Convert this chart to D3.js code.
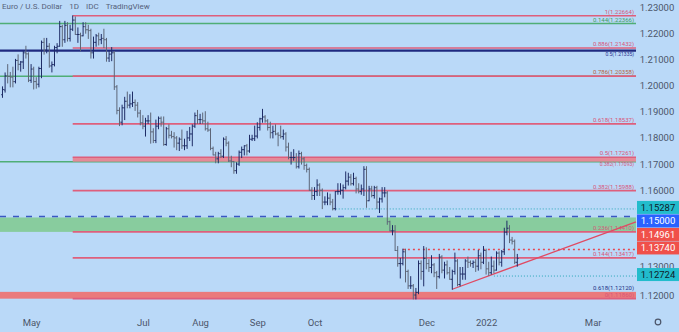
<!DOCTYPE html>
<html>
<head>
<meta charset="utf-8">
<script src="https://cdn.jsdelivr.net/npm/d3@7"></script>
<style>
  body { margin: 0; background: #bad9f8; }
  svg { display: block; font-family: Roboto, "Open Sans", sans-serif; }
</style>
</head>
<body>
<div id="chart"></div>
<script>
const width = 679, height = 332;
const plotRight = 636;

// one bar per weekday, starting 16 Apr 2021 (EUR/USD daily)
const firstDay = "2021-04-16";
const opens = [
  1.1965, 1.1983, 1.2037, 1.2035, 1.2032, 1.2015, 1.2096, 1.2081, 1.2090, 1.2125, 1.2121,
  1.2020, 1.2063, 1.2015, 1.2005, 1.2065, 1.2165, 1.2135, 1.2150, 1.2075, 1.2080, 1.2145, 1.2150, 1.2225, 1.2175, 1.2230, 1.2180, 1.2215, 1.2250, 1.2195, 1.2195, 1.2190,
  1.2225, 1.2213, 1.2210, 1.2125, 1.2165, 1.2190, 1.2175, 1.2180, 1.2175, 1.2105, 1.2120, 1.2125, 1.1995, 1.1905, 1.1860, 1.1915, 1.1940, 1.1925, 1.1930, 1.1935, 1.1925, 1.1895,
  1.1858, 1.1845, 1.1865, 1.1865, 1.1823, 1.1790, 1.1845, 1.1875, 1.1860, 1.1775, 1.1835, 1.1810, 1.1805, 1.1800, 1.1780, 1.1795, 1.1770, 1.1770, 1.1800, 1.1815, 1.1845, 1.1885,
  1.1870, 1.1870, 1.1865, 1.1835, 1.1830, 1.1760, 1.1735, 1.1720, 1.1740, 1.1730, 1.1795, 1.1780, 1.1712, 1.1710, 1.1675, 1.1700, 1.1745, 1.1755, 1.1770, 1.1750, 1.1795, 1.1797,
  1.1807, 1.1840, 1.1873, 1.1880, 1.1865, 1.1840, 1.1820, 1.1825, 1.1815, 1.1810, 1.1805, 1.1815, 1.1765, 1.1725, 1.1725, 1.1725, 1.1690, 1.1740, 1.1720, 1.1695, 1.1680, 1.1600,
  1.1580, 1.1595, 1.1620, 1.1600, 1.1555, 1.1555, 1.1570, 1.1555, 1.1530, 1.1595, 1.1595, 1.1600, 1.1610, 1.1635, 1.1650, 1.1625, 1.1645, 1.1605, 1.1595, 1.1605, 1.1680,
  1.1560, 1.1605, 1.1580, 1.1610, 1.1555, 1.1567, 1.1590, 1.1590, 1.1480, 1.1445, 1.1445, 1.1370, 1.1320, 1.1320, 1.1365, 1.1290, 1.1235, 1.1235, 1.1200, 1.1210, 1.1320, 1.1290,
  1.1340, 1.1320, 1.1305, 1.1315, 1.1285, 1.1270, 1.1345, 1.1295, 1.1315, 1.1285, 1.1260, 1.1290, 1.1330, 1.1240, 1.1280, 1.1280, 1.1330, 1.1325, 1.1320, 1.1325, 1.1310, 1.1350, 1.1325,
  1.1370, 1.1300, 1.1285, 1.1310, 1.1295, 1.1360, 1.1325, 1.1365, 1.1440, 1.1455, 1.1410, 1.1405, 1.1325
];
const highs = [
  1.1995, 1.2048, 1.2080, 1.2050, 1.2070, 1.2100, 1.2117, 1.2092, 1.2130, 1.2150, 1.2125,
  1.2080, 1.2070, 1.2030, 1.2070, 1.2170, 1.2180, 1.2180, 1.2160, 1.2090, 1.2150, 1.2160, 1.2245, 1.2230, 1.2245, 1.2240, 1.2230, 1.2266, 1.2262, 1.2220, 1.2200, 1.2240,
  1.2240, 1.2230, 1.2215, 1.2185, 1.2195, 1.2200, 1.2195, 1.2215, 1.2180, 1.2130, 1.2145, 1.2130, 1.2000, 1.1915, 1.1925, 1.1955, 1.1975, 1.1965, 1.1975, 1.1945, 1.1935, 1.1905,
  1.1885, 1.1875, 1.1885, 1.1895, 1.1835, 1.1868, 1.1880, 1.1880, 1.1880, 1.1840, 1.1850, 1.1825, 1.1820, 1.1805, 1.1800, 1.1830, 1.1795, 1.1825, 1.1840, 1.1850, 1.1895, 1.1905,
  1.1890, 1.1895, 1.1900, 1.1860, 1.1835, 1.1765, 1.1745, 1.1745, 1.1755, 1.1800, 1.1805, 1.1785, 1.1730, 1.1710, 1.1705, 1.1750, 1.1765, 1.1770, 1.1775, 1.1810, 1.1810, 1.1845,
  1.1858, 1.1875, 1.1909, 1.1885, 1.1870, 1.1860, 1.1845, 1.1850, 1.1820, 1.1845, 1.1830, 1.1820, 1.1780, 1.1745, 1.1755, 1.1740, 1.1750, 1.1745, 1.1725, 1.1700, 1.1685, 1.1610,
  1.1610, 1.1640, 1.1625, 1.1605, 1.1575, 1.1590, 1.1585, 1.1565, 1.1595, 1.1625, 1.1625, 1.1620, 1.1670, 1.1665, 1.1660, 1.1665, 1.1650, 1.1625, 1.1620, 1.1690, 1.1690,
  1.1615, 1.1615, 1.1615, 1.1615, 1.1570, 1.1610, 1.1610, 1.1595, 1.1482, 1.1465, 1.1465, 1.1385, 1.1340, 1.1375, 1.1375, 1.1295, 1.1270, 1.1240, 1.1225, 1.1330, 1.1330, 1.1385,
  1.1380, 1.1335, 1.1350, 1.1320, 1.1290, 1.1355, 1.1350, 1.1325, 1.1330, 1.1305, 1.1295, 1.1360, 1.1335, 1.1305, 1.1305, 1.1335, 1.1345, 1.1330, 1.1330, 1.1335, 1.1370, 1.1360, 1.1385,
  1.1375, 1.1325, 1.1345, 1.1330, 1.1365, 1.1365, 1.1370, 1.1455, 1.1482, 1.1465, 1.1420, 1.1410, 1.1355
];
const lows = [
  1.1955, 1.1975, 1.2010, 1.1995, 1.1995, 1.2010, 1.2060, 1.2055, 1.2065, 1.2105, 1.2015,
  1.2012, 1.1987, 1.1990, 1.1995, 1.2030, 1.2120, 1.2125, 1.2070, 1.2052, 1.2075, 1.2125, 1.2150, 1.2150, 1.2165, 1.2170, 1.2170, 1.2210, 1.2195, 1.2165, 1.2133, 1.2190,
  1.2200, 1.2180, 1.2105, 1.2105, 1.2150, 1.2155, 1.2160, 1.2145, 1.2093, 1.2092, 1.2095, 1.1985, 1.1892, 1.1847, 1.1850, 1.1870, 1.1915, 1.1915, 1.1920, 1.1905, 1.1880, 1.1850,
  1.1835, 1.1807, 1.1855, 1.1780, 1.1782, 1.1782, 1.1835, 1.1845, 1.1772, 1.1772, 1.1800, 1.1800, 1.1765, 1.1755, 1.1752, 1.1760, 1.1755, 1.1760, 1.1790, 1.1770, 1.1840, 1.1855,
  1.1855, 1.1855, 1.1830, 1.1825, 1.1755, 1.1735, 1.1705, 1.1705, 1.1725, 1.1725, 1.1770, 1.1710, 1.1690, 1.1665, 1.1665, 1.1695, 1.1725, 1.1735, 1.1735, 1.1745, 1.1790, 1.1790,
  1.1800, 1.1830, 1.1860, 1.1860, 1.1830, 1.1800, 1.1800, 1.1812, 1.1770, 1.1800, 1.1795, 1.1750, 1.1720, 1.1700, 1.1715, 1.1685, 1.1685, 1.1700, 1.1680, 1.1670, 1.1600, 1.1565,
  1.1565, 1.1580, 1.1580, 1.1530, 1.1545, 1.1545, 1.1545, 1.1525, 1.1525, 1.1585, 1.1585, 1.1570, 1.1605, 1.1620, 1.1620, 1.1620, 1.1590, 1.1590, 1.1585, 1.1580, 1.1535,
  1.1560, 1.1575, 1.1570, 1.1530, 1.1515, 1.1555, 1.1575, 1.1470, 1.1445, 1.1430, 1.1370, 1.1310, 1.1265, 1.1315, 1.1250, 1.1225, 1.1225, 1.1185, 1.1185, 1.1205, 1.1260, 1.1235,
  1.1300, 1.1290, 1.1285, 1.1270, 1.1225, 1.1265, 1.1285, 1.1265, 1.1280, 1.1260, 1.1222, 1.1280, 1.1235, 1.1235, 1.1260, 1.1260, 1.1305, 1.1310, 1.1305, 1.1290, 1.1295, 1.1300, 1.1320,
  1.1280, 1.1275, 1.1280, 1.1285, 1.1295, 1.1315, 1.1310, 1.1355, 1.1430, 1.1400, 1.1395, 1.1320, 1.1310
];
const closes = [
  1.1985, 1.2037, 1.2035, 1.2032, 1.2015, 1.2096, 1.2081, 1.2090, 1.2125, 1.2121, 1.2020,
  1.2063, 1.2015, 1.2005, 1.2065, 1.2165, 1.2135, 1.2150, 1.2075, 1.2080, 1.2145, 1.2150, 1.2225, 1.2175, 1.2230, 1.2180, 1.2215, 1.2250, 1.2195, 1.2195, 1.2190, 1.2225,
  1.2213, 1.2210, 1.2125, 1.2165, 1.2190, 1.2175, 1.2180, 1.2175, 1.2105, 1.2120, 1.2125, 1.1995, 1.1905, 1.1860, 1.1915, 1.1940, 1.1925, 1.1930, 1.1935, 1.1925, 1.1895, 1.1858,
  1.1845, 1.1865, 1.1865, 1.1823, 1.1790, 1.1845, 1.1875, 1.1860, 1.1775, 1.1835, 1.1810, 1.1805, 1.1800, 1.1780, 1.1795, 1.1770, 1.1770, 1.1800, 1.1815, 1.1845, 1.1885, 1.1870,
  1.1870, 1.1865, 1.1835, 1.1830, 1.1760, 1.1735, 1.1720, 1.1740, 1.1730, 1.1795, 1.1780, 1.1712, 1.1710, 1.1675, 1.1700, 1.1745, 1.1755, 1.1770, 1.1750, 1.1795, 1.1797, 1.1807,
  1.1840, 1.1873, 1.1880, 1.1865, 1.1840, 1.1820, 1.1825, 1.1815, 1.1810, 1.1805, 1.1815, 1.1765, 1.1725, 1.1725, 1.1725, 1.1690, 1.1740, 1.1720, 1.1695, 1.1680, 1.1600, 1.1580,
  1.1595, 1.1620, 1.1600, 1.1555, 1.1555, 1.1570, 1.1555, 1.1530, 1.1595, 1.1595, 1.1600, 1.1610, 1.1635, 1.1650, 1.1625, 1.1645, 1.1605, 1.1595, 1.1605, 1.1680, 1.1560,
  1.1605, 1.1580, 1.1610, 1.1555, 1.1567, 1.1590, 1.1590, 1.1480, 1.1445, 1.1445, 1.1370, 1.1320, 1.1320, 1.1365, 1.1290, 1.1235, 1.1235, 1.1200, 1.1210, 1.1320, 1.1290, 1.1340,
  1.1320, 1.1305, 1.1315, 1.1285, 1.1270, 1.1345, 1.1295, 1.1315, 1.1285, 1.1260, 1.1290, 1.1330, 1.1240, 1.1280, 1.1280, 1.1330, 1.1325, 1.1320, 1.1325, 1.1310, 1.1350, 1.1325, 1.1370,
  1.1300, 1.1285, 1.1310, 1.1295, 1.1360, 1.1325, 1.1365, 1.1440, 1.1455, 1.1410, 1.1405, 1.1325, 1.1340
];

// time axis labels (first weekday of the month)
const tickMonths = ["2021-05", "2021-07", "2021-08", "2021-09", "2021-10", "2021-12", "2022-01", "2022-03"];
const tickLabels = ["May", "Jul", "Aug", "Sep", "Oct", "Dec", "2022", "Mar"];
// 1.14 and 1.15 sit under the price tags
const priceTicks = [1.12, 1.13, 1.16, 1.17, 1.18, 1.19, 1.20, 1.21, 1.22, 1.23];

// fibonacci retracement from the May high
const fibStart = "2021-05-25";
const fibLevels = [1.22664, 1.21432, 1.20358, 1.18537, 1.17261, 1.15988, 1.14410, 1.13417, 1.11860];
const fibLabels = ["1(1.22664)", "0.886(1.21432)", "0.786(1.20358)", "0.618(1.18537)", "0.5(1.17261)", "0.382(1.15988)", "0.236(1.14410)", "0.144(1.13417)", "0(1.11860)"];
// older levels running across the whole chart
const greenLevels = [1.22366, 1.20358, 1.17093];
const navyLevel = 1.21335;
const fibBand = [1.17093, 1.17261];
const redZone = [1.11860, 1.12120];
const greenZone = [1.14410, 1.14961];
const dashedLevel = 1.15;
// horizontal rays: [start date, price]
const tealRays = [["2021-10-12", 1.15287], ["2022-01-06", 1.12724]];
const redRay = ["2021-11-18", 1.1374];
// rising trendline from the December low
const trendPoints = [["2021-12-15", 1.1222], ["2022-01-07", 1.1284]];
// price scale tags
const tagValues = [1.15287, 1.15000, 1.14961, 1.13740, 1.12724];
const tagKinds = ["teal", "blue", "red", "red", "teal"];
const titleParts = ["Euro / U.S. Dollar", "1D", "IDC", "TradingView"];

const parseDay = d3.timeParse("%Y-%m-%d");
const days = d3.timeDay.range(parseDay(firstDay), parseDay("2022-04-01"))
    .filter(d => d.getDay() !== 0 && d.getDay() !== 6);
const dayIndex = s => days.findIndex(d => +d === +parseDay(s));
const monthIndex = m => days.findIndex(d => d3.timeFormat("%Y-%m")(d) === m);

const svg = d3.select("#chart").append("svg")
    .attr("width", width)
    .attr("height", height);

svg.append("rect").attr("width", width).attr("height", height).attr("fill", "#bad9f8");

var x = d3.scaleLinear().domain([-0.96, 243.65]).range([0, plotRight]);
var y = d3.scaleLinear().domain([1.12, 1.23]).range([295, 7]);

const chart = svg.append("g");

// zones
const fx = x(dayIndex(fibStart));
chart.append("rect")
    .attr("x", 0).attr("width", plotRight)
    .attr("y", y(greenZone[1])).attr("height", y(greenZone[0]) - y(greenZone[1]))
    .attr("fill", "#88cc9e");
chart.append("rect")
    .attr("x", 0).attr("width", plotRight)
    .attr("y", y(redZone[1])).attr("height", y(redZone[0]) - y(redZone[1]))
    .attr("fill", "#ea7a7c");

// green levels, full width
chart.selectAll(".green-level")
    .data(greenLevels)
    .enter()
    .append("line")
    .attr("x1", 0).attr("x2", plotRight)
    .attr("y1", d => y(d)).attr("y2", d => y(d))
    .attr("stroke", "#4fae76")
    .attr("stroke-width", 1.5);

// band between 0.5 levels
chart.append("rect")
    .attr("x", fx).attr("width", plotRight - fx)
    .attr("y", y(fibBand[1])).attr("height", y(fibBand[0]) - y(fibBand[1]))
    .attr("fill", "#e58a99");

// fib lines
chart.selectAll(".fib")
    .data(fibLevels)
    .enter()
    .append("line")
    .attr("x1", fx).attr("x2", plotRight)
    .attr("y1", d => y(d)).attr("y2", d => y(d))
    .attr("stroke", "#de5f7c")
    .attr("stroke-width", 1.6);

chart.append("line")
    .attr("x1", 0).attr("x2", plotRight)
    .attr("y1", y(navyLevel)).attr("y2", y(navyLevel))
    .attr("stroke", "#1f2a80")
    .attr("stroke-width", 2.4);

chart.append("line")
    .attr("x1", 0).attr("x2", plotRight)
    .attr("y1", y(dashedLevel)).attr("y2", y(dashedLevel))
    .attr("stroke", "#3a57c4")
    .attr("stroke-width", 1.5)
    .attr("stroke-dasharray", "6,7");

chart.selectAll(".teal-ray")
    .data(tealRays)
    .enter()
    .append("line")
    .attr("x1", d => x(dayIndex(d[0]))).attr("x2", plotRight)
    .attr("y1", d => y(d[1])).attr("y2", d => y(d[1]))
    .attr("stroke", "#2aa7b8")
    .attr("stroke-width", 1)
    .attr("stroke-dasharray", "1,2");

chart.append("line")
    .attr("x1", x(dayIndex(redRay[0]))).attr("x2", plotRight)
    .attr("y1", y(redRay[1])).attr("y2", y(redRay[1]))
    .attr("stroke", "#e8454f")
    .attr("stroke-width", 1.5)
    .attr("stroke-dasharray", "2,3");

// fib labels
const labelFont = 6;
chart.selectAll(".fib-label")
    .data(fibLevels)
    .enter()
    .append("text")
    .attr("x", plotRight - 2)
    .attr("y", d => y(d) - 2)
    .attr("text-anchor", "end")
    .attr("font-size", labelFont)
    .attr("fill", (d, i) => i === 2 ? "#b8623c" : "#d9557a")
    .text((d, i) => fibLabels[i]);

chart.append("text")
    .attr("x", plotRight - 2).attr("y", y(greenLevels[0]) - 2)
    .attr("text-anchor", "end").attr("font-size", labelFont)
    .attr("fill", "#3f9d63").text("0.144(1.22366)");
// sits on the navy line, just under the 0.886 label
chart.append("text")
    .attr("x", plotRight - 2).attr("y", y(navyLevel) + 5)
    .attr("text-anchor", "end").attr("font-size", 5)
    .attr("fill", "#2a3590").text("0.5(1.21335)");
chart.append("text")
    .attr("x", plotRight - 2).attr("y", y(greenLevels[2]) + 4.5)
    .attr("text-anchor", "end").attr("font-size", 5)
    .attr("fill", "#d9557a").text("0.382(1.17093)");
chart.append("text")
    .attr("x", plotRight - 2).attr("y", y(redZone[1]) - 2)
    .attr("text-anchor", "end").attr("font-size", labelFont)
    .attr("fill", "#233086").text("0.618(1.12120)");

// trendline extended to the right edge
const t0 = [dayIndex(trendPoints[0][0]), trendPoints[0][1]];
const t1 = [dayIndex(trendPoints[1][0]), trendPoints[1][1]];
const trend = d3.scaleLinear().domain([t0[0], t1[0]]).range([t0[1], t1[1]]);
const tEnd = x.domain()[1];
chart.append("line")
    .attr("x1", x(t0[0])).attr("y1", y(t0[1]))
    .attr("x2", x(tEnd)).attr("y2", y(trend(tEnd)))
    .attr("stroke", "#e04a63")
    .attr("stroke-width", 1.3);

// OHLC bars
const bars = chart.selectAll(".bar")
    .data(closes.map((c, i) => i))
    .enter()
    .append("g")
    .attr("stroke", i => closes[i] >= opens[i] ? "#1e2c66" : "#5d6678")
    .attr("stroke-width", 1);
bars.append("line")
    .attr("x1", i => x(i)).attr("x2", i => x(i))
    .attr("y1", i => y(highs[i]) - 0.5).attr("y2", i => y(lows[i]) + 0.5);
bars.append("line")
    .attr("x1", i => x(i) - 1.3).attr("x2", i => x(i))
    .attr("y1", i => y(opens[i])).attr("y2", i => y(opens[i]));
bars.append("line")
    .attr("x1", i => x(i)).attr("x2", i => x(i) + 1.3)
    .attr("y1", i => y(closes[i])).attr("y2", i => y(closes[i]));

// price axis
const axisColor = "#4c566a";
const yAxis = svg.append("g")
    .attr("transform", "translate(" + plotRight + ",0)")
    .call(d3.axisRight(y).tickValues(priceTicks).tickFormat(d3.format(".5f")).tickSize(0));
yAxis.select(".domain").remove();
yAxis.selectAll("text")
    .attr("x", 21)
    .attr("text-anchor", "middle")
    .attr("font-size", 9.5)
    .attr("font-family", "Roboto, sans-serif")
    .attr("fill", axisColor);
// 1.13 peeks out just above the lowest tag
yAxis.selectAll(".tick").filter(d => d === 1.13).select("text").attr("dy", "0.1em");

// time axis
const xAxis = svg.append("g")
    .attr("transform", "translate(0,314)")
    .call(d3.axisBottom(x)
        .tickValues(tickMonths.map(monthIndex))
        .tickFormat((d, i) => tickLabels[i])
        .tickSize(0));
xAxis.select(".domain").remove();
xAxis.selectAll("text")
    .attr("dy", "0.9em")
    .attr("font-size", 9.5)
    .attr("font-family", "Roboto, sans-serif")
    .attr("fill", axisColor);

// price tags on the scale
const tagColors = { teal: "#22bccc", blue: "#2962ff", red: "#f0504a" };
const tagText = { teal: "#10202a", blue: "#ffffff", red: "#ffffff" };
let lastY = -100;
const tagY = tagValues.map(v => {
    lastY = Math.max(y(v) - 1.5, lastY + 13.5);
    return lastY;
});
const tags = svg.selectAll(".tag")
    .data(tagValues)
    .enter()
    .append("g");
tags.append("rect")
    .attr("x", plotRight + 1).attr("width", width - plotRight - 1)
    .attr("y", (d, i) => tagY[i] - 6.5).attr("height", 13)
    .attr("fill", (d, i) => tagColors[tagKinds[i]]);
tags.append("text")
    .attr("x", plotRight + 22)
    .attr("y", (d, i) => tagY[i])
    .attr("dy", "0.35em")
    .attr("text-anchor", "middle")
    .attr("font-size", 9.5)
    .attr("fill", (d, i) => tagText[tagKinds[i]])
    .text(d => d3.format(".5f")(d));

// title, parts separated by small gaps
const title = svg.append("g").attr("font-size", 8).attr("fill", "#56627a");
let tx = 2;
titleParts.forEach(t => {
    const node = title.append("text").attr("x", tx).attr("y", 9).text(t);
    tx += node.node().getComputedTextLength() + 7;
});

// settings gear
svg.append("circle")
    .attr("cx", 658).attr("cy", 322).attr("r", 2.8)
    .attr("fill", "none")
    .attr("stroke", axisColor)
    .attr("stroke-width", 1.2);
</script>
</body>
</html>
